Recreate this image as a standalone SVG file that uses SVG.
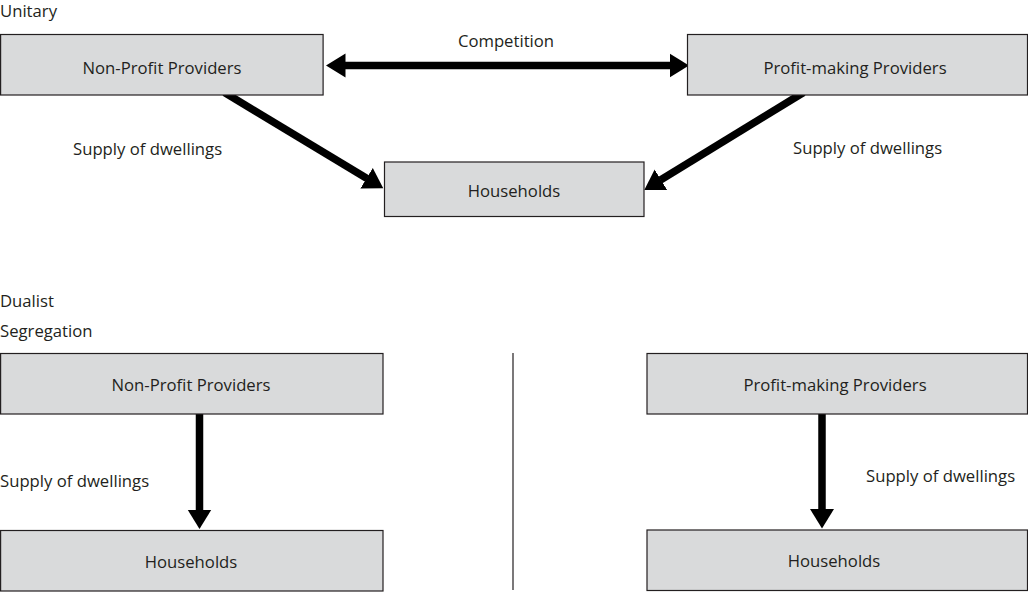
<svg xmlns="http://www.w3.org/2000/svg" width="1028" height="593" viewBox="0 0 1028 593">
<style>
  .box { fill: #d9dadb; stroke: #231f20; stroke-width: 1.2; }
  .lbl { font-family: "Open Sans", "Noto Sans", "Liberation Sans", sans-serif; font-size: 16.7px; fill: #231f20; }
  .mid { text-anchor: middle; }
  .conn { stroke: #000; stroke-width: 7.5; fill: none; }
  .sep { stroke: #231f20; stroke-width: 1.2; fill: none; }
</style>
<defs>
  <marker id="head" markerUnits="userSpaceOnUse" markerWidth="21" markerHeight="26" viewBox="0 -13 21 26" refX="0.5" refY="0" orient="auto-start-reverse">
    <path d="M0,-12 L19.5,0 L0,12 Z" fill="#000"/>
  </marker>
</defs>
<rect width="1028" height="593" fill="#ffffff"/>
<text class="lbl" x="0" y="17">Unitary</text>
<text class="lbl" x="0" y="307">Dualist</text>
<text class="lbl" x="0" y="337">Segregation</text>
<g id="connectors">
  <line class="conn" x1="345" y1="65.5" x2="670" y2="65.5" marker-start="url(#head)" marker-end="url(#head)"/>
  <line class="conn" x1="224.5" y1="92.5" x2="367" y2="178.5" marker-end="url(#head)"/>
  <line class="conn" x1="803.5" y1="92.5" x2="660.5" y2="180" marker-end="url(#head)"/>
  <line class="conn" x1="199.5" y1="412" x2="199.5" y2="510" marker-end="url(#head)"/>
  <line class="conn" x1="822" y1="412" x2="822" y2="509.5" marker-end="url(#head)"/>
  <line class="sep" x1="513" y1="353" x2="513" y2="590"/>
  <text class="lbl mid" x="506" y="47">Competition</text>
  <text class="lbl" x="73" y="155">Supply of dwellings</text>
  <text class="lbl" x="793" y="154">Supply of dwellings</text>
  <text class="lbl" x="0" y="487">Supply of dwellings</text>
  <text class="lbl" x="866" y="482">Supply of dwellings</text>
</g>
<g id="n-nonprofit-top">
  <rect class="box" x="0.6" y="34.5" width="322.5" height="60.5"/>
  <text class="lbl mid" x="162" y="74">Non-Profit Providers</text>
</g>
<g id="n-profit-top">
  <rect class="box" x="687.5" y="34.5" width="340" height="60.5"/>
  <text class="lbl mid" x="855" y="74">Profit-making Providers</text>
</g>
<g id="n-households-top">
  <rect class="box" x="384.5" y="162" width="259.5" height="54.5"/>
  <text class="lbl mid" x="514" y="197">Households</text>
</g>
<g id="n-nonprofit-bottom">
  <rect class="box" x="0.6" y="353.5" width="382.4" height="60.5"/>
  <text class="lbl mid" x="191" y="391">Non-Profit Providers</text>
</g>
<g id="n-households-left">
  <rect class="box" x="0.6" y="530.5" width="382.4" height="60.5"/>
  <text class="lbl mid" x="191" y="568">Households</text>
</g>
<g id="n-profit-bottom">
  <rect class="box" x="647" y="353.5" width="380.5" height="60.5"/>
  <text class="lbl mid" x="835" y="391">Profit-making Providers</text>
</g>
<g id="n-households-right">
  <rect class="box" x="647" y="530" width="380.5" height="60.5"/>
  <text class="lbl mid" x="834" y="567">Households</text>
</g>
</svg>
